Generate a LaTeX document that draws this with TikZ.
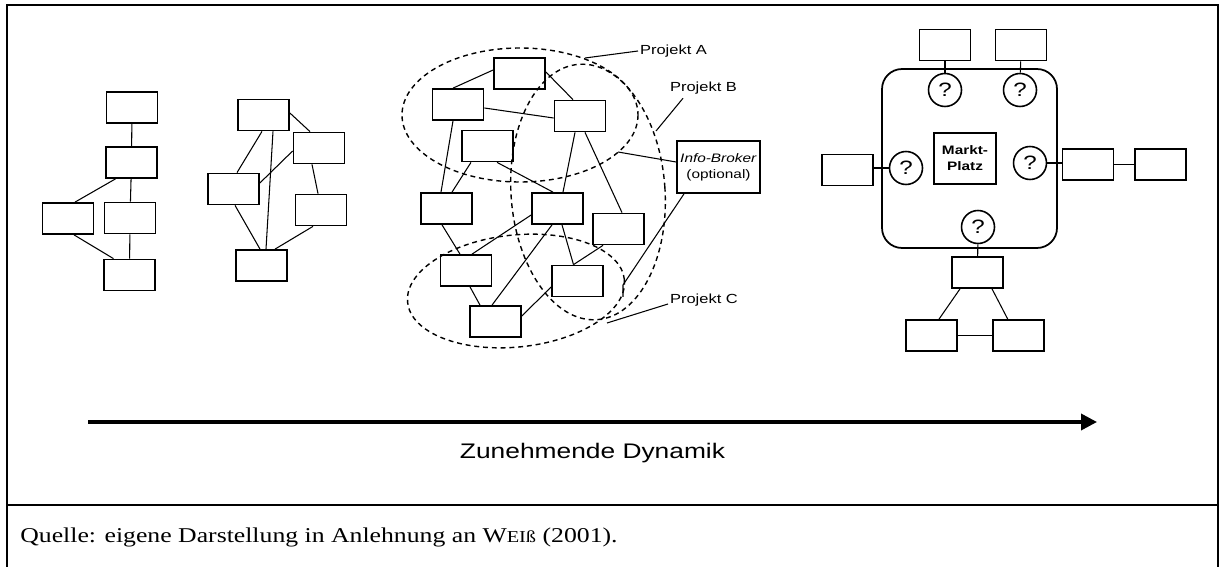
\documentclass[tikz,border=0pt]{standalone}
\usepackage{fontspec}
\setmainfont[FakeStretch=1.22]{Liberation Serif}
\newfontfamily\labelfont[FakeStretch=1.25]{Liberation Sans}
\usepackage{tikz}
\usetikzlibrary{shapes,arrows,arrows.meta}
\usetikzlibrary{calc}
\usetikzlibrary{positioning}
\tikzstyle{box} = [draw, line width=1pt, minimum width=1.02cm, minimum height=0.62cm, inner sep=0pt]
\tikzstyle{ask} = [draw, circle, line width=0.9pt, minimum size=0.66cm, inner sep=0pt, font=\labelfont\fontsize{11}{12}\selectfont]
\tikzstyle{tag} = [font=\labelfont\fontsize{7.5}{9}\selectfont, inner sep=1pt]
\tikzstyle{wire} = [line width=0.6pt]
\tikzstyle{project} = [line width=0.8pt, dash pattern=on 2.8pt off 2.2pt]

\begin{document}
\begin{tikzpicture}[x=0.02cm, y=-0.02cm]
    \useasboundingbox (0,0) rectangle (1226,567);
    \draw [line width=0.9pt] (7,567) -- (7,5) -- (1218,5) -- (1218,567);
    \draw [line width=0.9pt] (7,505) -- (1218,505);

    % hierarchy
    \node [box, name=a1] at (132,107.5) {};
    \node [box, name=a2] at (131.5,162.5) {};
    \node [box, name=a3] at (68,218.5) {};
    \node [box, name=a4] at (130,218) {};
    \node [box, name=a5] at (129.5,275) {};
    \draw [wire] (a1) -- (a2);
    \draw [wire] (a2) -- (a4);
    \draw [wire] (a4) -- (a5);
    \draw [wire] ($(a2.south)+(-16,0)$) -- ($(a3.north)+(7,0)$);
    \draw [wire] ($(a3.south)+(6,0)$) -- ($(a5.north)+(-16,0)$);

    % network
    \node [box, name=b1] at (263.5,115) {};
    \node [box, name=b2] at (319,148) {};
    \node [box, name=b3] at (233.5,189) {};
    \node [box, name=b4] at (321,210) {};
    \node [box, name=b5] at (261.5,265.5) {};
    \draw [wire] ($(b1.east)+(0,-2)$) -- ($(b2.north)+(-9,0)$);
    \draw [wire] ($(b1.south)+(-1.5,0)$) -- ($(b3.north)+(3.5,0)$);
    \draw [wire] ($(b1.south)+(9.5,0)$) -- ($(b5.north)+(4.5,0)$);
    \draw [wire] ($(b3.east)+(0,-6)$) -- ($(b2.west)+(0,3)$);
    \draw [wire] ($(b2.south)+(-7,0)$) -- ($(b4.north)+(-3,0)$);
    \draw [wire] ($(b3.south)+(1.5,0)$) -- ($(b5.north)+(-1.5,0)$);
    \draw [wire] ($(b4.south)+(-8,0)$) -- ($(b5.north)+(13.5,0)$);

    % projects
    \node [box, name=c1] at (519.5,73.5) {};
    \node [box, name=c2] at (458,104.5) {};
    \node [box, name=c3] at (580,116) {};
    \node [box, name=c4] at (487.5,146) {};
    \node [box, name=c5] at (446.5,208.5) {};
    \node [box, name=c6] at (557.5,208.5) {};
    \node [box, name=c7] at (618.5,229) {};
    \node [box, name=c8] at (466,270.5) {};
    \node [box, name=c9] at (577.5,281) {};
    \node [box, name=c10] at (495.5,321.5) {};
    \node [box, name=broker, minimum width=1.66cm, minimum height=1.04cm, align=center, font=\labelfont\fontsize{7}{9}\selectfont] at (718.5,167) {\textit{Info-Broker}\\(optional)};
    \draw [wire] ($(c1.west)+(0,-3.5)$) -- ($(c2.north)+(-5,0)$);
    \draw [wire] ($(c1.east)+(0,-1.5)$) -- ($(c3.north)+(-7,0)$);
    \draw [wire] ($(c2.east)+(0,3.5)$) -- ($(c3.west)+(0,2)$);
    \draw [wire] ($(c2.south)+(-5,0)$) -- ($(c5.north)+(-5.5,0)$);
    \draw [wire] ($(c4.south)+(-16.5,0)$) -- ($(c5.north)+(5.5,0)$);
    \draw [wire] ($(c4.south)+(9.5,0)$) -- ($(c6.north)+(-4.5,0)$);
    \draw [wire] ($(c3.south)+(-5,0)$) -- ($(c6.north)+(5.5,0)$);
    \draw [wire] ($(c3.south)+(5,0)$) -- ($(c7.north)+(3.5,0)$);
    \draw [wire] ($(c5.south)+(-4.5,0)$) -- ($(c8.north)+(-6,0)$);
    \draw [wire] ($(c6.west)+(0,6.5)$) -- ($(c8.north)+(6,0)$);
    \draw [wire] ($(c6.south)+(4.5,0)$) -- ($(c9.north)+(-4,0)$);
    \draw [wire] ($(c7.south)+(-15.5,0)$) -- ($(c9.north)+(-4,0)$);
    \draw [wire] ($(c6.south)+(-5.5,0)$) -- ($(c10.north)+(-3.5,0)$);
    \draw [wire] ($(c8.south)+(4,0)$) -- ($(c10.north)+(-15.5,0)$);
    \draw [wire] ($(c9.west)+(0,6)$) -- ($(c10.east)+(0,-5.5)$);

    \draw [project] (520,115) ellipse [x radius=118, y radius=67];
    \draw [project, rotate around={4:(588,192)}] (588,192) ellipse [x radius=77, y radius=128];
    \draw [project, rotate around={6:(516,291)}] (516,291) ellipse [x radius=109, y radius=56];
    \coordinate (pa) at (585,58);
    \coordinate (pb) at (656,131);
    \coordinate (pc) at (607,323);
    \coordinate (pbroker) at (618,152);
    \coordinate (bend) at (623,285);
    \coordinate (pcbroker) at (623,297);

    \node [tag, anchor=west, name=la] at (638,51) {Projekt A};
    \node [tag, anchor=west, name=lb] at (668,88) {Projekt B};
    \node [tag, anchor=west, name=lc] at (668,300) {Projekt C};
    \draw [wire] (la.west) -- (pa);
    \draw [wire] ($(lb.south west)+(15,2)$) -- (pb);
    \draw [wire] ($(lc.west)+(0,4)$) -- (pc);
    \draw [wire] ($(broker.west)+(0,-5)$) -- (pbroker);
    \draw [wire] ($(broker.south)+(-34.5,0)$) -- (bend) -- (pcbroker);

    % market place
    \node [draw, rounded corners=0.4cm, line width=1pt, minimum width=3.5cm, minimum height=3.58cm, name=market] at (969.5,158.5) {};
    \node [box, name=place, minimum width=1.24cm, minimum height=1.02cm, align=center, font=\labelfont\bfseries\fontsize{7}{9}\selectfont] at (965,158.5) {Markt-\\Platz};
    \node [box, name=d1] at (945,45) {};
    \node [box, name=d2] at (1021,45) {};
    \node [box, name=d3] at (847.5,170) {};
    \node [box, name=d4] at (1088,164.5) {};
    \node [box, right=0.4cm of d4, name=d5] {};
    \node [box, name=d6] at (977.5,272.5) {};
    \node [box, name=d7] at (931.5,335.5) {};
    \node [box, right=0.68cm of d7, name=d8] {};
    \node [ask, name=q1] at (945,90) {?};
    \node [ask, name=q2] at (1020,90) {?};
    \node [ask, name=q3] at (906,168) {?};
    \node [ask, name=q4] at (1030,163) {?};
    \node [ask, name=q5] at (978,227) {?};
    \draw [wire] (d1) -- (q1);
    \draw [wire] (d2) -- (q2);
    \draw [wire] (d3.east |- q3) -- (q3);
    \draw [wire] (q4) -- (q4 -| d4.west);
    \draw [wire] (d4) -- (d5);
    \draw [wire] (q5) -- (d6);
    \draw [wire] ($(d6.south)+(-17.5,0)$) -- ($(d7.north)+(7.5,0)$);
    \draw [wire] ($(d6.south)+(14.5,0)$) -- ($(d8.north)+(-10.5,0)$);
    \draw [wire] (d7) -- (d8);

    \coordinate (from) at (88,422);
    \coordinate (to) at (1097,422);
    \draw [line width=2pt, -{Triangle[length=0.32cm, width=0.32cm]}] (from) -- node [below=0.28cm, font=\labelfont\fontsize{12}{14}\selectfont] {Zunehmende Dynamik} (to);

    \node [anchor=base west, inner sep=0pt, font=\fontsize{12}{14}\selectfont, name=source] at (20,542) {Quelle: eigene Darstellung in Anlehnung an W{\fontsize{9.5}{10}\selectfont EIß} (2001).};
\end{tikzpicture}
\end{document}
